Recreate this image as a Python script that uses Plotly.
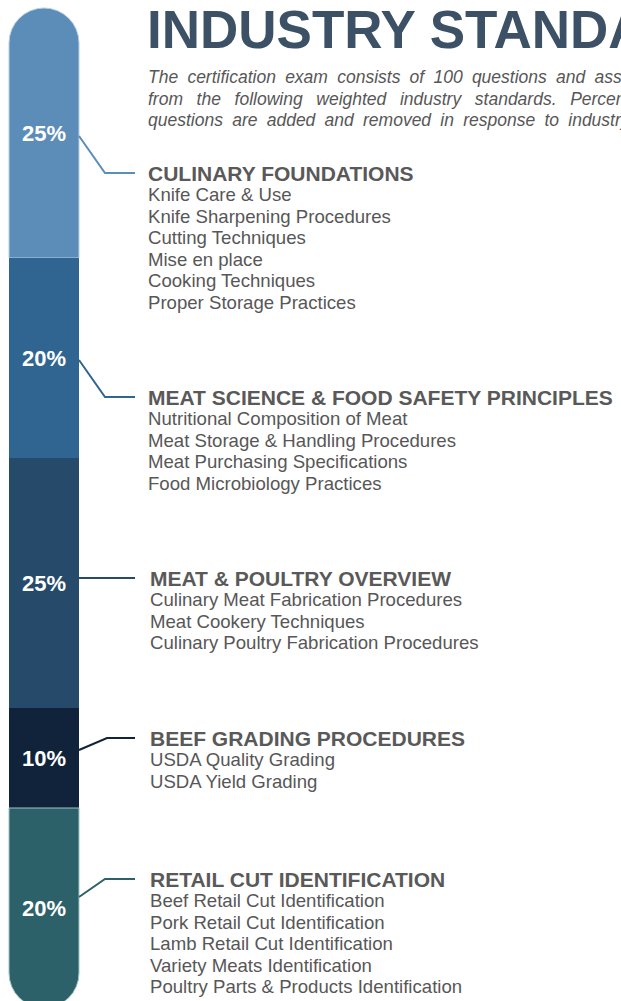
import plotly.graph_objects as go

# ---------------- data ----------------
categories = [
    "CULINARY FOUNDATIONS",
    "MEAT SCIENCE & FOOD SAFETY PRINCIPLES",
    "MEAT & POULTRY OVERVIEW",
    "BEEF GRADING PROCEDURES",
    "RETAIL CUT IDENTIFICATION",
]
weights = [25, 20, 25, 10, 20]
topics = [
    ["Knife Care & Use", "Knife Sharpening Procedures", "Cutting Techniques",
     "Mise en place", "Cooking Techniques", "Proper Storage Practices"],
    ["Nutritional Composition of Meat", "Meat Storage & Handling Procedures",
     "Meat Purchasing Specifications", "Food Microbiology Practices"],
    ["Culinary Meat Fabrication Procedures", "Meat Cookery Techniques",
     "Culinary Poultry Fabrication Procedures"],
    ["USDA Quality Grading", "USDA Yield Grading"],
    ["Beef Retail Cut Identification", "Pork Retail Cut Identification",
     "Lamb Retail Cut Identification", "Variety Meats Identification",
     "Poultry Parts & Products Identification"],
]
title_text = "INDUSTRY STANDARDS"
subtitle_lines = [
    "The certification exam consists of 100 questions and assesses",
    "from the following weighted industry standards. Percentages may",
    "questions are added and removed in response to industry trends.",
]

# ---------------- styles / layout ----------------
colors = ["#5b8db8", "#2f6590", "#254a6a", "#11233b", "#2d6169"]
edge_colors = ["#b5d0e6", None, None, None, "#9fc3c6"]
FONT = "Liberation Sans, Arial, Helvetica, sans-serif"
W, H = 621, 1001
BAR_X, BAR_W = 44, 70
BAR_RIGHT = BAR_X + BAR_W / 2
BAR_TOP_PX = 8
PX_PER_PCT = 10
TEXT_GREY = "#575757"
# extra word spacing imitating the justified paragraph of the original
subtitle_gap_extra = ["\u2005", "\u2002", "\u2005"]

head_x = [147, 147, 149, 149, 149]
head_y = [173, 397, 578, 738, 879]
conn_start_y = [136, 360, 578, 750, 897]
conn_elbow_x = [105, 105, 105, 107, 105]
LINE_H = 21.5


def yp(px):
    return 1 - px / H


fig = go.Figure()

# relative stacking: first segment grows upward from the origin, the others
# downward, so both outer ends of the column get the rounded corners.
origin_px = BAR_TOP_PX + PX_PER_PCT * weights[0]
for i, (w, c) in enumerate(zip(weights, colors)):
    val = -w if i == 0 else w
    ec = edge_colors[i]
    fig.add_trace(go.Bar(
        x=[BAR_X], y=[val], width=[BAR_W],
        marker=dict(color=c,
                    line=dict(width=1 if ec else 0, color=ec or c)),
        text=[f"{w}%"], textposition="inside", insidetextanchor="middle",
        textangle=0, constraintext="none",
        textfont=dict(color="white", size=22, family=FONT, weight="bold"),
        hoverinfo="skip", showlegend=False,
    ))

annotations = []
shapes = []

# title
annotations.append(dict(
    x=145, y=yp(29), xref="x", yref="paper", xanchor="left", yanchor="middle",
    text=f"<b>{title_text}</b>", showarrow=False,
    font=dict(family=FONT, size=53, color="#3d5166"),
))
for k, line in enumerate(subtitle_lines):
    spaced = (" " + subtitle_gap_extra[k]).join(line.split(" "))
    annotations.append(dict(
        x=146, y=yp(77 + k * LINE_H), xref="x", yref="paper",
        xanchor="left", yanchor="middle", text=f"<i>{spaced}</i>",
        showarrow=False, font=dict(family=FONT, size=17.5, color=TEXT_GREY),
    ))

for i, cat in enumerate(categories):
    annotations.append(dict(
        x=head_x[i] - 1, y=yp(head_y[i]), xref="x", yref="paper",
        xanchor="left", yanchor="middle", text=f"<b>{cat}</b>",
        showarrow=False, font=dict(family=FONT, size=21, color="#595959"),
    ))
    for k, t in enumerate(topics[i]):
        annotations.append(dict(
            x=head_x[i] - 1, y=yp(head_y[i] + (k + 1) * LINE_H), xref="x",
            yref="paper", xanchor="left", yanchor="middle", text=t,
            showarrow=False, font=dict(family=FONT, size=18.6, color=TEXT_GREY),
        ))
    path = (f"M {BAR_RIGHT},{yp(conn_start_y[i])} "
            f"L {conn_elbow_x[i]},{yp(head_y[i])} "
            f"L 135,{yp(head_y[i])}")
    shapes.append(dict(type="path", path=path, xref="x", yref="paper",
                       line=dict(color=colors[i], width=2)))

fig.update_layout(
    width=W, height=H,
    margin=dict(l=0, r=0, t=0, b=0),
    paper_bgcolor="white", plot_bgcolor="white",
    barmode="relative", barcornerradius=BAR_W / 2,
    xaxis=dict(range=[0, W], visible=False, fixedrange=True),
    yaxis=dict(range=[(H - origin_px) / PX_PER_PCT, -origin_px / PX_PER_PCT],
               visible=False, fixedrange=True),
    annotations=annotations, shapes=shapes,
    showlegend=False,
)

fig.write_html(
    "out.html",
    config={"displayModeBar": False},
    post_script="document.body.style.margin='0';document.body.style.overflow='hidden';",
)
